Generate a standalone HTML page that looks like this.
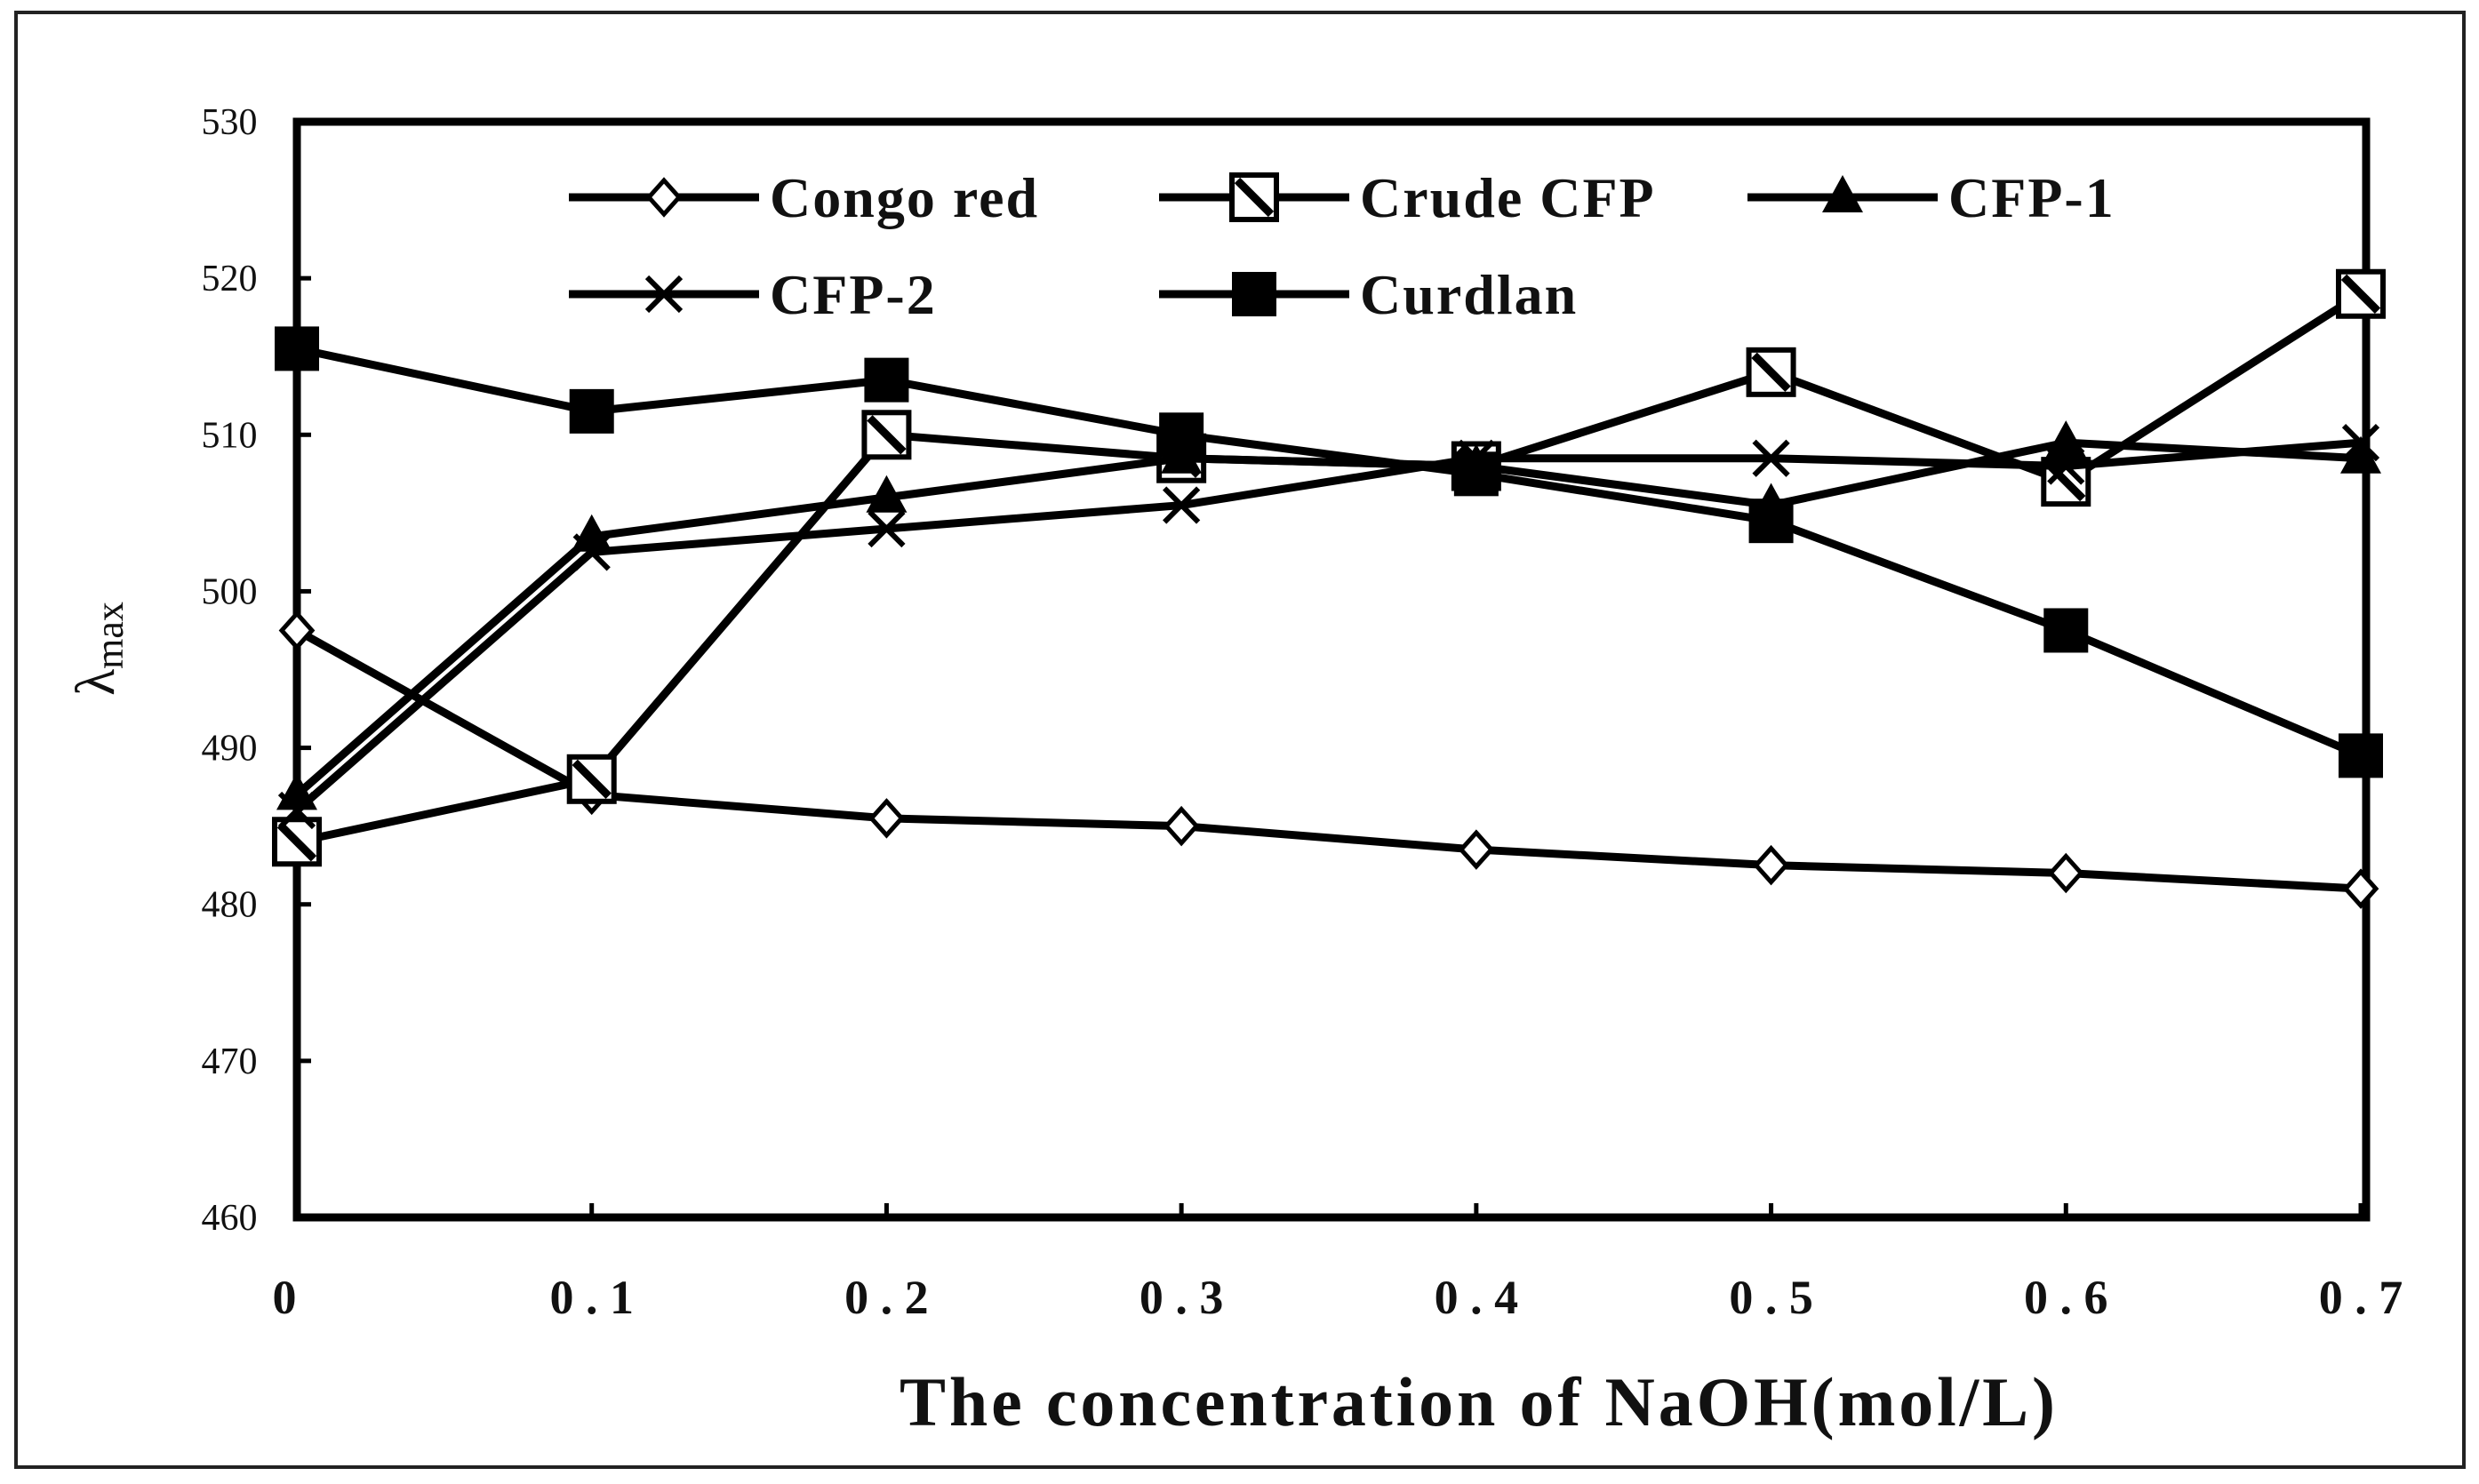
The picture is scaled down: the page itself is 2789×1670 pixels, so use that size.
<!DOCTYPE html>
<html><head><meta charset="utf-8">
<style>
html,body{margin:0;padding:0;background:#fff;}
svg{display:block;}
text{font-family:"Liberation Serif",serif;fill:#111;}
</style></head>
<body>
<svg id="chart" width="2789" height="1670" viewBox="0 0 2789 1670" xmlns="http://www.w3.org/2000/svg">
<rect x="18" y="14" width="2754" height="1637" fill="#fff" stroke="#222" stroke-width="4"/>
<g id="plot"></g>
</svg>
<script>
const categories=[0,0.1,0.2,0.3,0.4,0.5,0.6,0.7];
const xTickLabels=["0","0 . 1","0 . 2","0 . 3","0 . 4","0 . 5","0 . 6","0 . 7"];
const yTicks=[460,470,480,490,500,510,520,530];
const congoRed=[497.5,487,485.5,485,483.5,482.5,482,481];
const crudeCFP=[484,488,510,508.5,508,514,507,519];
const cfp1=[487,503.5,506,508.5,508,505.5,509.5,508.5];
const cfp2=[486,502.5,504,505.5,508.5,508.5,508,509.5];
const curdlan=[515.5,511.5,513.5,510,507.5,504.5,497.5,489.5];
const seriesNames=["Congo red","Crude CFP","CFP-1","CFP-2","Curdlan"];

const L=334,R=2662,T=137,B=1370;
const xs=v=>L+(v-0)/0.7*(2656-L);
const ys=v=>B-(v-460)/70*(B-T);
const NS="http://www.w3.org/2000/svg";
const g=document.getElementById('plot');
function mk(tag,attrs,parent){const e=document.createElementNS(NS,tag);for(const k in attrs)e.setAttribute(k,attrs[k]);(parent||g).appendChild(e);return e;}

const box=mk('rect',{x:L,y:T,width:R-L,height:B-T,fill:'none',stroke:'#000','stroke-width':9});



yTicks.forEach(v=>{
  const t=mk('line',{x1:L,x2:L+16,y1:ys(v),y2:ys(v),stroke:'#000','stroke-width':5});
  
  
  const lb=mk('text',{x:258,y:ys(v)+14,'font-size':42,'text-anchor':'middle'});
  lb.textContent=v;
  
  
});
categories.forEach((c,i)=>{
  const t=mk('line',{x1:xs(c),x2:xs(c),y1:B,y2:B-16,stroke:'#000','stroke-width':5});
  
  
  const lb=mk('text',{x:xs(c)+(i==0?-14:0),y:1478,'font-size':54,'font-weight':'bold','text-anchor':'middle'});
  lb.textContent=xTickLabels[i];
  
  
});
const xt=mk('text',{x:1662,y:1604,'font-size':78,'font-weight':'bold','text-anchor':'middle','textLength':1300});
xt.textContent='The concentration of NaOH(mol/L)';


const yt=mk('text',{x:0,y:0,'font-size':62,'text-anchor':'middle',transform:'translate(128,730) rotate(-90)'});
yt.innerHTML='λ<tspan font-size="44" dy="10">max</tspan>';



function marker(type,x,y,parent){
  const s=25;let e;
  if(type==='diamond'){e=mk('polygon',{points:`${x},${y-19} ${x+17},${y} ${x},${y+19} ${x-17},${y}`,fill:'#fff',stroke:'#000','stroke-width':5},parent);}
  else if(type==='square-open'){e=mk('g',{},parent);mk('rect',{x:x-s,y:y-s,width:2*s,height:2*s,fill:'#fff',stroke:'#000','stroke-width':6},e);mk('line',{x1:x-s+6,y1:y-s+6,x2:x+s-6,y2:y+s-6,stroke:'#000','stroke-width':9},e);}
  else if(type==='triangle'){e=mk('polygon',{points:`${x},${y-25} ${x+23},${y+17} ${x-23},${y+17}`,fill:'#000'},parent);}
  else if(type==='cross'){e=mk('g',{},parent);mk('line',{x1:x-19,y1:y-19,x2:x+19,y2:y+19,stroke:'#000','stroke-width':6},e);mk('line',{x1:x-19,y1:y+19,x2:x+19,y2:y-19,stroke:'#000','stroke-width':6},e);}
  else {e=mk('rect',{x:x-s,y:y-s,width:2*s,height:2*s,fill:'#000'},parent);}
  return e;
}
const allSeries=[congoRed,crudeCFP,cfp1,cfp2,curdlan];
const types=['diamond','square-open','triangle','cross','square'];
const ids=['congo-red','crude-cfp','cfp-1','cfp-2','curdlan'];
allSeries.forEach((vals,si)=>{
  const sg=mk('g',{});
  
  
  const pl=mk('polyline',{points:vals.map((v,i)=>xs(categories[i])+','+ys(v)).join(' '),fill:'none',stroke:'#000','stroke-width':9,'stroke-linejoin':'round'},sg);
  
  
  vals.forEach((v,i)=>{
    const m=marker(types[si],xs(categories[i]),ys(v),sg);
    
    
  });
});
const legPos=[[640,222],[1304,222],[1966,222],[640,331],[1304,331]];
const lg=mk('g',{});


seriesNames.forEach((n,i)=>{
  const [lx,ly]=legPos[i];
  const eg=mk('g',{},lg);
  
  
  mk('line',{x1:lx,x2:lx+214,y1:ly,y2:ly,stroke:'#000','stroke-width':9},eg);
  marker(types[i],lx+107,ly,eg);
  const t=mk('text',{x:lx+226,y:ly+22,'font-size':64,'font-weight':'bold','letter-spacing':2},eg);
  t.textContent=n;
});
</script>
</body></html>
